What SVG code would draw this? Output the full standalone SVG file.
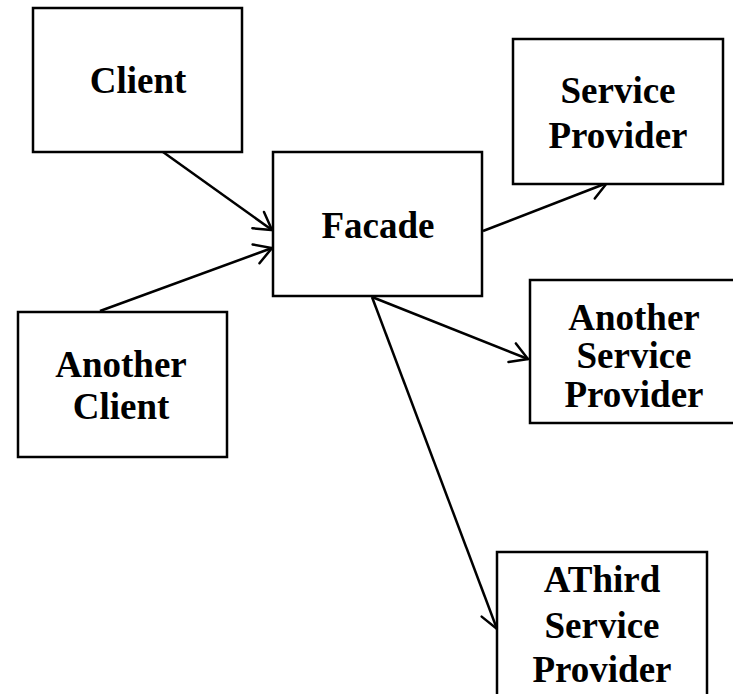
<svg xmlns="http://www.w3.org/2000/svg" width="733" height="694" viewBox="0 0 733 694">
  <style>
    .box { fill: #ffffff; stroke: #000000; stroke-width: 2.5; }
    .label { font-family: "Liberation Serif", "Times New Roman", serif; font-weight: bold; font-size: 37px; fill: #000000; text-anchor: middle; }
    .link { fill: none; stroke: #000000; stroke-width: 2.5; marker-end: url(#open-arrow); }
  </style>
  <defs>
    <marker id="open-arrow" markerUnits="userSpaceOnUse" markerWidth="30" markerHeight="30" refX="0" refY="0" viewBox="-22 -15 30 30" orient="auto" overflow="visible">
      <path d="M-17,-10 L0,0 L-17,10" fill="none" stroke="#000000" stroke-width="2.5" stroke-linecap="round" stroke-linejoin="miter"/>
    </marker>
  </defs>
  <rect width="733" height="694" fill="#ffffff"/>

  <g id="connectors">
    <line class="link" x1="163" y1="152" x2="272" y2="230"/>
    <line class="link" x1="100" y1="311" x2="272" y2="248"/>
    <line class="link" x1="483" y1="231" x2="607" y2="183"/>
    <line class="link" x1="372" y1="297" x2="528" y2="359"/>
    <line class="link" x1="372" y1="297" x2="497" y2="629"/>
  </g>

  <g id="client">
    <rect class="box" x="33" y="8" width="209" height="144"/>
    <text class="label" x="138" y="93">Client</text>
  </g>

  <g id="another-client">
    <rect class="box" x="18" y="312" width="209" height="145"/>
    <text class="label" x="121" y="377">Another</text>
    <text class="label" x="121" y="419">Client</text>
  </g>

  <g id="facade">
    <rect class="box" x="273" y="152" width="209" height="144"/>
    <text class="label" x="378" y="238">Facade</text>
  </g>

  <g id="service-provider">
    <rect class="box" x="513" y="39" width="210" height="145"/>
    <text class="label" x="618" y="103">Service</text>
    <text class="label" x="618" y="148">Provider</text>
  </g>

  <g id="another-service-provider">
    <rect class="box" x="530" y="280" width="220" height="143"/>
    <text class="label" x="634" y="330">Another</text>
    <text class="label" x="634" y="368">Service</text>
    <text class="label" x="634" y="407">Provider</text>
  </g>

  <g id="third-service-provider">
    <rect class="box" x="497" y="552" width="210" height="160"/>
    <text class="label" x="602" y="592">AThird</text>
    <text class="label" x="602" y="638">Service</text>
    <text class="label" x="602" y="682">Provider</text>
  </g>
</svg>
